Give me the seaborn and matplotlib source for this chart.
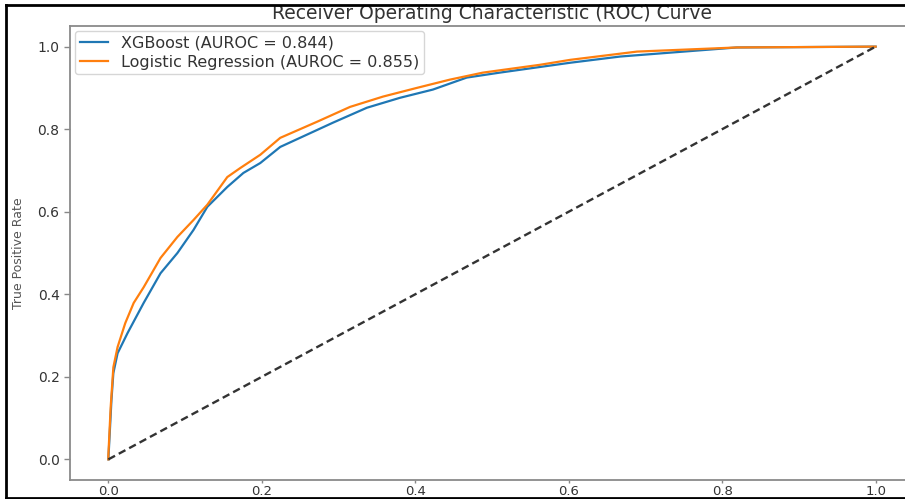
import matplotlib
matplotlib.use("Agg")
import matplotlib.pyplot as plt
from matplotlib.lines import Line2D
import seaborn as sns
import pandas as pd

# ROC curve readings (false positive rate, true positive rate)
xgb_fpr = [0.0, 0.0013, 0.004, 0.0065, 0.012, 0.025, 0.046, 0.068, 0.090, 0.111,
           0.129, 0.155, 0.176, 0.198, 0.224, 0.293, 0.337, 0.380, 0.423, 0.467,
           0.510, 0.602, 0.667, 0.819, 1.0]
xgb_tpr = [0.0, 0.046, 0.143, 0.209, 0.257, 0.306, 0.379, 0.451, 0.500, 0.556,
           0.612, 0.660, 0.694, 0.718, 0.757, 0.816, 0.852, 0.876, 0.896, 0.925,
           0.937, 0.961, 0.976, 0.998, 1.0]

lr_fpr = [0.0, 0.0, 0.003, 0.0065, 0.012, 0.022, 0.033, 0.046, 0.068, 0.090,
          0.111, 0.129, 0.155, 0.172, 0.198, 0.224, 0.272, 0.315, 0.358, 0.402,
          0.445, 0.488, 0.5625, 0.602, 0.689, 0.819, 0.996, 1.0]
lr_tpr = [0.0, 0.01, 0.126, 0.223, 0.272, 0.330, 0.379, 0.417, 0.488, 0.539,
          0.580, 0.617, 0.684, 0.706, 0.738, 0.779, 0.818, 0.854, 0.879, 0.900,
          0.920, 0.937, 0.956, 0.968, 0.988, 0.998, 1.0, 1.0]

chance = [0.0, 1.0]

xgb_label = "XGBoost (AUROC = 0.844)"
lr_label = "Logistic Regression (AUROC = 0.855)"
title = "Receiver Operating Characteristic (ROC) Curve"
ylabel = "True Positive Rate"
ticks = [0.0, 0.2, 0.4, 0.6, 0.8, 1.0]

W, H = 905, 499
fig = plt.figure(figsize=(W / 100, H / 100), dpi=100)
ax = fig.add_axes([70 / W, 1 - 480 / H, (914 - 70) / W, (480 - 26) / H])

df_x = pd.DataFrame({"fpr": xgb_fpr, "tpr": xgb_tpr})
df_l = pd.DataFrame({"fpr": lr_fpr, "tpr": lr_tpr})

sns.lineplot(data=df_x, x="fpr", y="tpr", sort=False, estimator=None, ax=ax,
             color="#1f77b4", linewidth=1.6, label=xgb_label)
sns.lineplot(data=df_l, x="fpr", y="tpr", sort=False, estimator=None, ax=ax,
             color="#ff7f0e", linewidth=1.6, label=lr_label)
ax.plot(chance, chance, linestyle="--", color="#333333", linewidth=1.7,
        dashes=(3.2, 1.8))

ax.set_xlim(-0.05, 1.05)
ax.set_ylim(-0.05, 1.05)
ax.set_xticks(ticks)
ax.set_yticks(ticks)
ax.set_xticklabels([f"{t:.1f}" for t in ticks])
ax.set_yticklabels([f"{t:.1f}" for t in ticks])
ax.tick_params(axis="y", labelsize=10, colors="#333333", length=4, width=1,
               color="#888888")
ax.tick_params(axis="x", labelsize=9.5, colors="#333333", length=2.5, width=1,
               color="#888888", pad=0.8)
ax.set_xlabel("")
ax.set_ylabel(ylabel, fontsize=9, color="#555555",
              family=["Liberation Sans Narrow", "DejaVu Sans"], labelpad=9)
ax.set_title(title, fontsize=13.5, color="#333333", pad=5)
for s in ax.spines.values():
    s.set_color("#8a8a8a")
    s.set_linewidth(1.3)
ax.spines["right"].set_visible(False)

leg = ax.legend(loc="upper left", fontsize=11.5, frameon=True,
                borderpad=0.3, labelspacing=0.25, handlelength=1.8,
                borderaxespad=0.3)
leg.get_frame().set_edgecolor("#cccccc")
for t in leg.get_texts():
    t.set_color("#333333")

# image border (left, top, bottom)
for xs, ys in [([6 / W, 6 / W], [1 - 5 / H, 1 - 497.5 / H]),
               ([6 / W, 1.0], [1 - 5 / H, 1 - 5 / H]),
               ([6 / W, 1.0], [1 - 497.5 / H, 1 - 497.5 / H])]:
    fig.add_artist(Line2D(xs, ys, color="black", linewidth=2.0,
                          transform=fig.transFigure, zorder=10))

fig.savefig("out.png", dpi=100)
